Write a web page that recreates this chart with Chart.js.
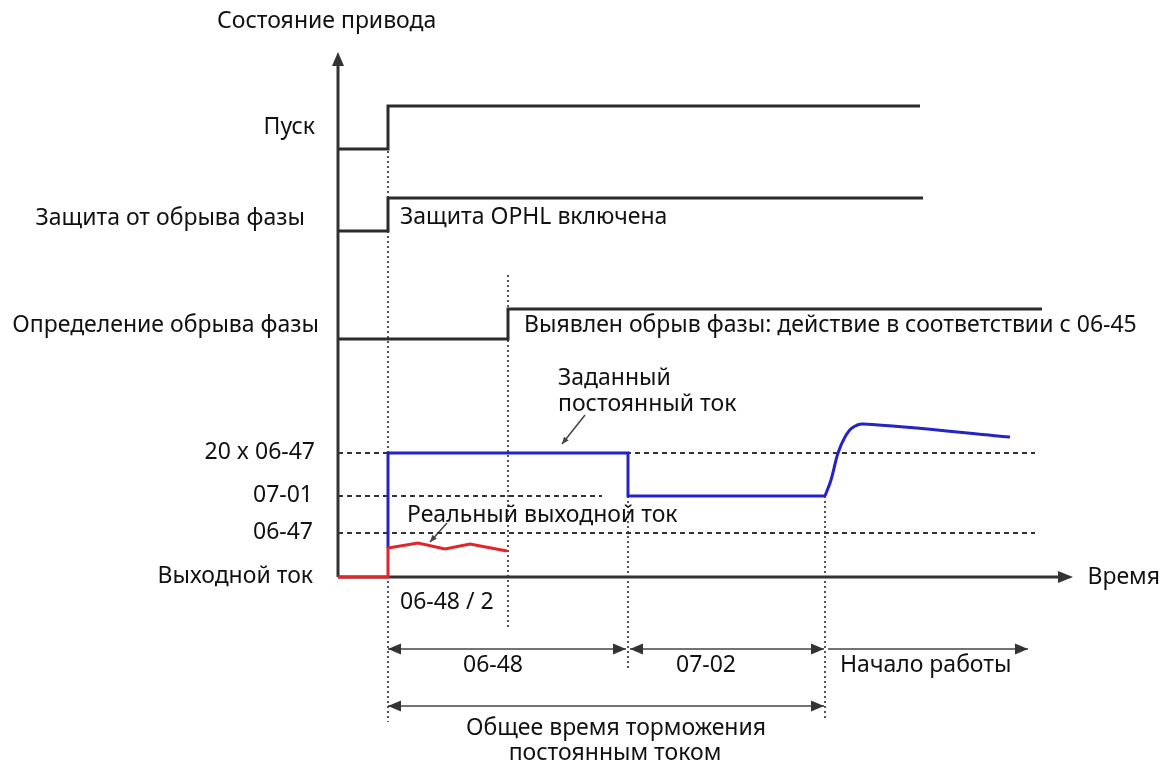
<!DOCTYPE html>
<html>
<head>
<meta charset="utf-8">
<script src="https://cdn.jsdelivr.net/npm/chart.js@4.4.1/dist/chart.umd.min.js"></script>
<style>
html,body{margin:0;padding:0;background:#fff;}
canvas{display:block;}
</style>
</head>
<body>
<canvas id="c" width="1165" height="762"></canvas>
<script>
// ---- data (time units / level units) ----
const eventTimes = [5, 17, 29, 48.7];               // start, detection, end of 06-48, end of 07-02
const startSignal = [[0, 42.8], [5, 42.8], [5, 47.1], [58.2, 47.1]];
const protectionSignal = [[0, 34.6], [5, 34.6], [5, 37.9], [58.5, 37.9]];
const detectionSignal = [[0, 23.8], [17, 23.8], [17, 26.8], [70.4, 26.8]];
const dcCurrentSet = [[5, 2.9], [5, 12.4], [29, 12.4], [29, 8.1], [48.7, 8.1]];
const currentAfterBraking = [[48.7, 8.1], [49.3, 9.7], [50, 12.4], [50.7, 14.0], [51.4, 14.9], [52.5, 15.3], [67.2, 14.0]];
const realCurrent = [[0, 0], [5, 0], [5, 2.9], [8, 3.4], [10.7, 2.8], [13.2, 3.3], [16.9, 2.6]];
const levelValues = [12.4, 8.1, 4.4];
const levelLabels = ['20 x 06-47', '07-01', '06-47'];
const levelEnds = [69.7, 26.4, 69.7];
const stateLabels = ['Пуск', 'Защита от обрыва фазы', 'Определение обрыва фазы', 'Выходной ток'];
const stateLabelLevels = [45, 35.9, 25.2, 0.1];
const guideTops = [47.1, 30.2, 8.1, 8.1];
const guideBottoms = [-14.5, -5.1, -9.1, -14.3];
const spanLabels = ['06-48', '07-02', 'Начало работы'];
const axisEnds = { time: 73.5, state: 52.5 };

// ---- styles / layout ----
const FONT = '"Noto Sans", "DejaVu Sans", sans-serif';
const FS = 23;

function pts(a) { return a.map(p => ({ x: p[0], y: p[1] })); }
function seg(x1, y1, x2, y2) { return [{ x: x1, y: y1 }, { x: x2, y: y2 }]; }

const datasets = [];
function addLine(data, color, width, dash, order, tension) {
  datasets.push({
    data: data, showLine: true, borderColor: color, borderWidth: width,
    borderDash: dash || [], pointRadius: 0, pointHoverRadius: 0, fill: false,
    tension: tension || 0, order: order, clip: false, borderCapStyle: 'butt', borderJoinStyle: 'miter'
  });
}

// red actual current (top), blue set current
addLine(pts(realCurrent), '#e3242b', 3, null, 0);
addLine(pts(dcCurrentSet), '#2323c8', 3, null, 1);
addLine(pts(currentAfterBraking), '#2323c8', 3, null, 1, 0.35);
// state signals
addLine(pts(startSignal), '#2b2b2b', 3, null, 2);
addLine(pts(protectionSignal), '#2b2b2b', 3, null, 2);
addLine(pts(detectionSignal), '#2b2b2b', 3, null, 2);
// axes
addLine(seg(0, 0, axisEnds.time - 1.2, 0), '#333', 3, null, 3);
addLine(seg(0, 0, 0, axisEnds.state - 1.2), '#333', 3, null, 3);
// dashed levels
levelValues.forEach((v, i) => addLine(seg(0, v, levelEnds[i], v), '#333', 2, [5, 4], 4));
// dotted event guides
eventTimes.forEach((t, i) => addLine(seg(t, guideTops[i], t, guideBottoms[i]), '#555', 2, [2, 3], 5));
// duration arrows
const rowA = -7.2, rowB = -12.9;
const spans = [
  [eventTimes[0], eventTimes[2] - 0.2, rowA, true, true],
  [eventTimes[2] + 0.2, eventTimes[3] - 0.1, rowA, true, true],
  [eventTimes[3] + 0.3, 69, rowA, false, true],
  [eventTimes[0], eventTimes[3] - 0.1, rowB, true, true]
];
spans.forEach(s => addLine(seg(s[0], s[2], s[1], s[2]), '#444', 1.6, null, 4));
// pointer lines
const pointers = [[[24.7, 16.2], [22.4, 13.3]], [[10.9, 5.4], [9.2, 3.5]]];
pointers.forEach(p => addLine(seg(p[0][0], p[0][1], p[1][0], p[1][1]), '#444', 1.5, null, 4));

const texts = [
  // [text, t, v, align]
  ['Состояние привода', -12.1, 55.6, 'left'],
  [stateLabels[0], -2.3, stateLabelLevels[0], 'right'],
  [stateLabels[1], -3.3, stateLabelLevels[1], 'right'],
  [stateLabels[2], -1.9, stateLabelLevels[2], 'right'],
  [stateLabels[3], -2.5, stateLabelLevels[3], 'right'],
  [levelLabels[0], -2.3, 12.5, 'right'],
  [levelLabels[1], -2.5, 8.2, 'right'],
  [levelLabels[2], -2.5, 4.5, 'right'],
  ['Время', 82.2, 0, 'right'],
  ['Защита OPHL включена', 6.2, 36, 'left'],
  ['Выявлен обрыв фазы: действие в соответствии с 06-45', 18.6, 25.2, 'left'],
  ['Заданный', 22, 19.9, 'left'],
  ['постоянный ток', 22, 17.3, 'left'],
  ['Реальный выходной ток', 6.9, 6.2, 'left'],
  ['06-48 / 2', 6.2, -2.5, 'left'],
  [spanLabels[0], 15.5, -8.8, 'center'],
  [spanLabels[1], 36.8, -8.8, 'center'],
  [spanLabels[2], 50.2, -8.8, 'left'],
  ['Общее время торможения', 27.8, -15.1, 'center'],
  ['постоянным током', 27.7, -17.6, 'center']
];

function head(ctx, x, y, ang, len, half, color) {
  ctx.save();
  ctx.translate(x, y);
  ctx.rotate(ang);
  ctx.beginPath();
  ctx.moveTo(0, 0);
  ctx.lineTo(-len, -half);
  ctx.lineTo(-len, half);
  ctx.closePath();
  ctx.fillStyle = color;
  ctx.fill();
  ctx.restore();
}

const overlay = {
  id: 'overlay',
  afterDatasetsDraw(chart) {
    const ctx = chart.ctx;
    const xs = chart.scales.x, ys = chart.scales.y;
    const X = t => xs.getPixelForValue(t), Y = v => ys.getPixelForValue(v);
    // axis arrowheads
    head(ctx, X(axisEnds.time), Y(0), 0, 15, 6, '#333');
    head(ctx, X(0), Y(axisEnds.state), -Math.PI / 2, 14, 6, '#333');
    // span arrowheads
    spans.forEach(s => {
      if (s[3]) head(ctx, X(s[0]), Y(s[2]), Math.PI, 13, 5.5, '#333');
      if (s[4]) head(ctx, X(s[1]), Y(s[2]), 0, 13, 5.5, '#333');
    });
    // pointer heads
    pointers.forEach(p => {
      const x1 = X(p[0][0]), y1 = Y(p[0][1]), x2 = X(p[1][0]), y2 = Y(p[1][1]);
      head(ctx, x2, y2, Math.atan2(y2 - y1, x2 - x1), 7, 3, '#444');
    });
    // texts
    ctx.save();
    ctx.fillStyle = '#111';
    ctx.font = FS + 'px ' + FONT;
    ctx.textBaseline = 'middle';
    texts.forEach(tx => {
      ctx.textAlign = tx[3];
      ctx.fillText(tx[0], X(tx[1]), Y(tx[2]));
    });
    ctx.restore();
  }
};

new Chart(document.getElementById('c'), {
  type: 'scatter',
  data: { datasets: datasets },
  options: {
    responsive: false,
    animation: false,
    events: [],
    layout: { padding: 0 },
    plugins: { legend: { display: false }, tooltip: { enabled: false } },
    scales: {
      x: { type: 'linear', min: -33.8, max: 82.7, display: false },
      y: { type: 'linear', min: -18.5, max: 57.7, display: false }
    }
  },
  plugins: [overlay]
});
</script>
</body>
</html>
